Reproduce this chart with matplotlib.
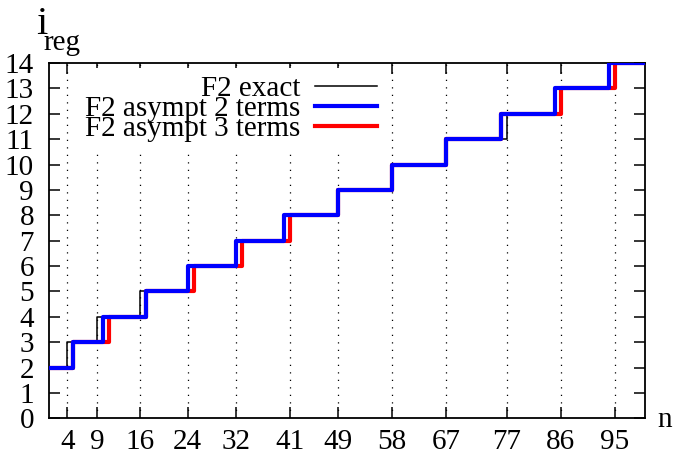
import matplotlib
matplotlib.use('Agg')
import matplotlib.pyplot as plt
import numpy as np

# i_reg levels and the n where each step up happens
levels = list(range(2, 15))
jumps_exact = [4, 9, 16, 24, 32, 41, 49, 58, 67, 77, 86, 95]
jumps_2terms = [5, 10, 17, 24, 32, 40, 49, 58, 67, 76, 85, 94]
jumps_3terms = [5, 11, 17, 25, 33, 41, 49, 58, 67, 76, 86, 95]
n_min, n_max = 1, 100
xticks = jumps_exact
yticks = list(range(0, 15))

plt.rcParams['font.family'] = ['Liberation Serif', 'DejaVu Serif']
fs = 21


def steps(jumps):
    x = [n_min] + jumps + [n_max]
    y = levels + [levels[-1]]
    return np.array(x), np.array(y)


fig = plt.figure(figsize=(6.73, 4.54), dpi=100)
ax = fig.add_axes([0.0733, 0.0786, 0.8851, 0.7824])

x, y = steps(jumps_exact)
l1, = ax.step(x, y, where='post', color='black', lw=1.1, label='F2 exact', zorder=3)
x, y = steps(jumps_3terms)
l3, = ax.step(x, y, where='post', color='#ff0000', lw=3.0, label='F2 asympt 3 terms', zorder=4)
x, y = steps(jumps_2terms)
l2, = ax.step(x, y, where='post', color='#0000ff', lw=3.0, label='F2 asympt 2 terms', zorder=5)

ax.set_xlim(n_min, n_max)
ax.set_ylim(0, 14)
ax.set_xticks(xticks)
ax.set_yticks(yticks)
ax.tick_params(direction='in', length=8, width=1.1, labelsize=fs,
               top=True, right=True)
ax.tick_params(axis='x', pad=8)
ax.tick_params(axis='y', pad=11)
for s in ax.spines.values():
    s.set_linewidth(1.3)
ax.xaxis.grid(True, color='black', linestyle=(0, (1, 5)), linewidth=0.9)
ax.set_axisbelow(True)

leg = ax.legend(handles=[l1, l2, l3], loc='upper right', bbox_to_anchor=(0.562, 0.986),
                markerfirst=False, fontsize=fs, frameon=True, fancybox=False,
                framealpha=1, edgecolor='none', facecolor='white',
                handlelength=2.12, handletextpad=0.51, labelspacing=-0.22,
                borderpad=0.25, borderaxespad=0.0)
leg.set_zorder(10)

fig.text(0.053, 0.925, 'i', fontsize=29, ha='left', va='baseline')
fig.text(0.064, 0.89, 'reg', fontsize=fs, ha='left', va='baseline')
fig.text(0.977, 0.06, 'n', fontsize=fs, ha='left', va='baseline')

fig.savefig('out.png', dpi=100)
